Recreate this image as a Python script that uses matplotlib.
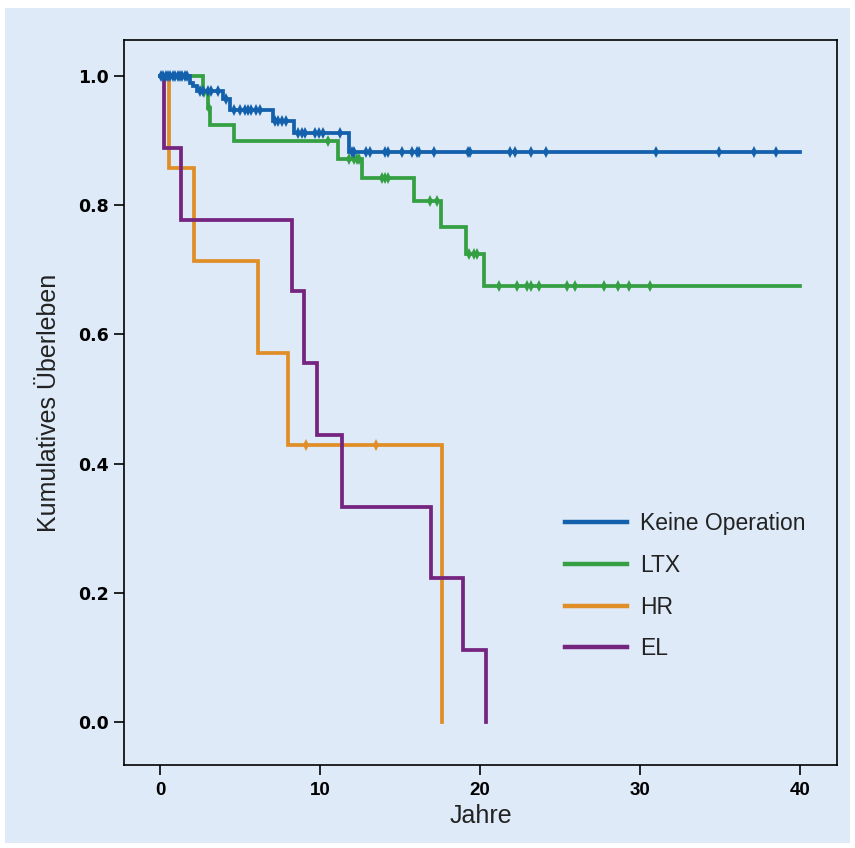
import matplotlib.pyplot as plt
import numpy as np
from matplotlib.patches import Rectangle

# Kaplan-Meier curves (event times in years, survival after the step)
labels = ["Keine Operation", "LTX", "HR", "EL"]
colors = ["#1360ad", "#34a043", "#e08e28", "#75247f"]

t_keine = [0, 1.85, 2.05, 2.3, 3.95, 4.35, 7.05, 8.4, 11.8, 40]
s_keine = [1.0, 0.990, 0.985, 0.977, 0.964, 0.948, 0.930, 0.912, 0.883, 0.883]
c_keine = [0.05, 0.2, 0.35, 0.5, 0.65, 0.8, 0.95, 1.1, 1.25, 1.4, 1.55, 1.7,
           2.5, 2.7, 3.0, 3.2, 3.65, 4.1, 4.6, 5.0, 5.3, 5.5, 5.7, 6.0, 6.25,
           7.2, 7.4, 7.6, 7.9, 8.65, 8.85, 9.05, 9.7, 9.95, 10.2, 11.25,
           12.0, 12.15, 12.9, 13.15, 14.05, 14.25, 15.15, 15.75, 16.05, 16.2,
           17.1, 19.25, 19.4, 21.85, 22.2, 23.2, 24.1, 31.0, 34.9, 37.1, 38.5]

t_ltx = [0, 2.7, 3.0, 3.1, 4.6, 11.1, 12.6, 15.85, 17.55, 19.1, 20.25, 40]
s_ltx = [1.0, 0.975, 0.95, 0.925, 0.90, 0.872, 0.843, 0.807, 0.767, 0.725, 0.675, 0.675]
c_ltx = [2.75, 3.05, 10.5, 11.8, 12.1, 12.3, 12.45, 13.85, 14.05, 14.25, 16.85, 17.3,
         19.3, 19.6, 19.8, 21.15, 22.3, 22.9, 23.15, 23.65, 25.4, 25.95, 27.75,
         28.6, 29.3, 30.6]

t_hr = [0, 0.55, 2.15, 6.1, 8.0, 17.65]
s_hr = [1.0, 6 / 7, 5 / 7, 4 / 7, 3 / 7, 0.0]
c_hr = [9.1, 13.5]

t_el = [0, 0.25, 1.3, 8.25, 9.0, 9.8, 11.4, 16.95, 18.95, 20.35]
s_el = [1.0, 8 / 9, 7 / 9, 6 / 9, 5 / 9, 4 / 9, 3 / 9, 2 / 9, 1 / 9, 0.0]
c_el = []

series = [(t_keine, s_keine, c_keine), (t_ltx, s_ltx, c_ltx),
          (t_hr, s_hr, c_hr), (t_el, s_el, c_el)]

BG = "#deeaf7"

fig = plt.figure(figsize=(8.55, 8.48), dpi=100, facecolor="white")
fig.patches.append(Rectangle((5 / 855, 5 / 848), 845 / 855, 835 / 848,
                             transform=fig.transFigure, facecolor=BG,
                             edgecolor="none", zorder=-10))
ax = fig.add_axes([124 / 855, 1 - 765 / 848, 713 / 855, 725 / 848])
ax.set_facecolor(BG)

handles = []
for (t, s, c), lab, col, z in zip(series, labels, colors, [4, 3, 2, 2.5]):
    (ln,) = ax.step(t, s, where="post", color=col, lw=2.7, zorder=z,
                    solid_joinstyle="miter", label=lab)
    if c:
        # censored observations sit on the curve at their time
        idx = np.searchsorted(t, c, side="right") - 1
        cy = np.asarray(s)[idx]
        ax.plot(c, cy, ls="none", marker="d", ms=5.8, mew=0, color=col, zorder=z)
    handles.append(ln)

ax.set_xlim(-2.25, 42.3)
ax.set_ylim(-0.067, 1.056)
ax.set_xticks([0, 10, 20, 30, 40])
ax.set_yticks([0.0, 0.2, 0.4, 0.6, 0.8, 1.0])
ax.set_yticklabels(["0.0", "0.2", "0.4", "0.6", "0.8", "1.0"])
for sp in ax.spines.values():
    sp.set_linewidth(1.2)
ax.tick_params(direction="out", length=7, width=1.2, color="black")
ax.tick_params(axis="x", pad=5)
ax.tick_params(axis="y", pad=4)
for lb in ax.get_xticklabels():
    lb.set_fontfamily("Liberation Sans")
    lb.set_fontweight("bold")
    lb.set_fontsize(13.5)
for lb in ax.get_yticklabels():
    lb.set_fontfamily("DejaVu Sans")
    lb.set_fontweight("bold")
    lb.set_fontsize(12.5)

ax.set_xlabel("Jahre", fontfamily="Liberation Sans", fontsize=18, color="#222222",
              labelpad=4)
ax.set_ylabel("Kumulatives Überleben", fontfamily="Liberation Sans", fontsize=18,
              color="#222222", labelpad=12)

leg = ax.legend(handles=handles, loc="upper left",
                bbox_to_anchor=((565 - 124) / 713, (765 - 512) / 725),
                frameon=False, borderpad=0, borderaxespad=0,
                handlelength=2.7, handletextpad=0.56, labelspacing=0.82,
                prop={"family": "Liberation Sans", "size": 16.5})
for lh in leg.get_lines():
    lh.set_linewidth(3.2)
for tx in leg.get_texts():
    tx.set_color("#222222")

fig.savefig("out.png", dpi=100, facecolor="white")
